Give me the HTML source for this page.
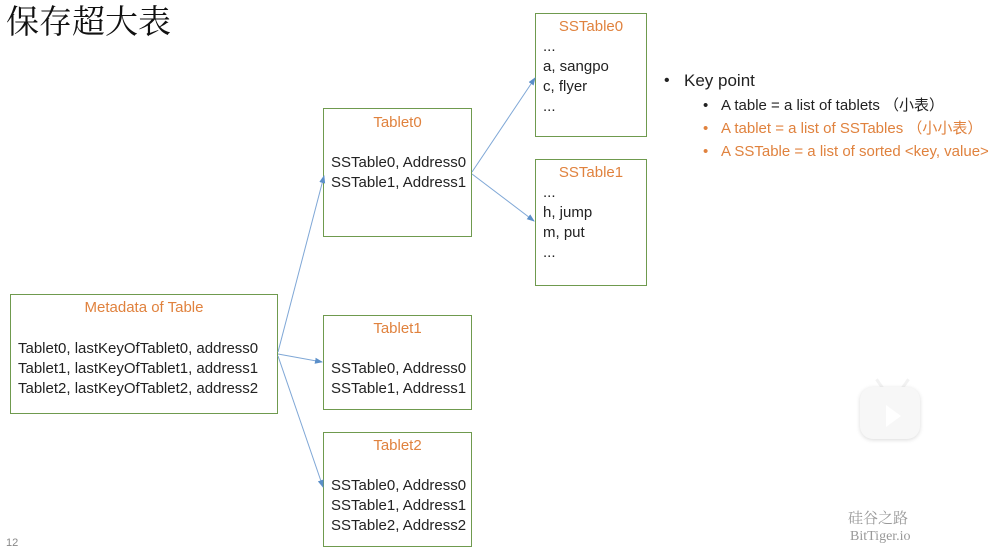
<!DOCTYPE html>
<html><head><meta charset="utf-8"><style>
body{margin:0;width:993px;height:551px;background:#fff;position:relative;overflow:hidden;font-family:"Liberation Sans","Noto Sans CJK SC",sans-serif;font-size:15px;color:#222}
.b{position:absolute;border:1.3px solid #6f9a4e;box-sizing:border-box;line-height:20px}
.t{position:absolute;white-space:nowrap}
.o{color:#e0823e}
.c{text-align:center}
</style></head><body>
<div class="t" style="left:6px;top:-2px;font-family:'Noto Serif CJK SC',serif;font-size:33px;line-height:44px;color:#111">保存超大表</div>

<div class="b" style="left:10px;top:294px;width:268px;height:120px"></div>
<div class="t o c" style="left:10px;width:268px;top:298px;line-height:20px">Metadata of Table</div>
<div class="t" style="left:18px;top:339px;line-height:20px">Tablet0, lastKeyOfTablet0, address0<br>Tablet1, lastKeyOfTablet1, address1<br>Tablet2, lastKeyOfTablet2, address2</div>

<div class="b" style="left:323px;top:108px;width:149px;height:129px"></div>
<div class="t o c" style="left:323px;width:149px;top:113px;line-height:20px">Tablet0</div>
<div class="t" style="left:331px;top:153px;line-height:20px">SSTable0, Address0<br>SSTable1, Address1</div>

<div class="b" style="left:323px;top:315px;width:149px;height:95px"></div>
<div class="t o c" style="left:323px;width:149px;top:319px;line-height:20px">Tablet1</div>
<div class="t" style="left:331px;top:359px;line-height:20px">SSTable0, Address0<br>SSTable1, Address1</div>

<div class="b" style="left:323px;top:432px;width:149px;height:115px"></div>
<div class="t o c" style="left:323px;width:149px;top:436px;line-height:20px">Tablet2</div>
<div class="t" style="left:331px;top:476px;line-height:20px">SSTable0, Address0<br>SSTable1, Address1<br>SSTable2, Address2</div>

<div class="b" style="left:535px;top:13px;width:112px;height:124px"></div>
<div class="t o c" style="left:535px;width:112px;top:17px;line-height:20px">SSTable0</div>
<div class="t" style="left:543px;top:37px;line-height:20px">...<br>a, sangpo<br>c, flyer<br>...</div>

<div class="b" style="left:535px;top:159px;width:112px;height:127px"></div>
<div class="t o c" style="left:535px;width:112px;top:163px;line-height:20px">SSTable1</div>
<div class="t" style="left:543px;top:183px;line-height:20px">...<br>h, jump<br>m, put<br>...</div>

<svg style="position:absolute;left:0;top:0" width="993" height="551">
<defs><marker id="a" markerWidth="8" markerHeight="8" refX="7" refY="4" orient="auto" markerUnits="userSpaceOnUse"><path d="M0,1 L8,4 L0,7 z" fill="#5b8fc9"/></marker></defs>
<g stroke="#7fa7d6" stroke-width="1" fill="none" marker-end="url(#a)">
<line x1="278" y1="352" x2="324" y2="176"/>
<line x1="278" y1="354" x2="322" y2="362"/>
<line x1="278" y1="356" x2="323" y2="487"/>
<line x1="472" y1="172" x2="535" y2="78"/>
<line x1="472" y1="174" x2="534" y2="221"/>
</g>
</svg>

<div class="t" style="left:664px;top:70px;font-size:16px;line-height:22px">•</div>
<div class="t" style="left:684px;top:70px;font-size:17px;line-height:22px">Key point</div>
<div class="t" style="left:703px;top:95px;font-size:15px;line-height:22px">•</div>
<div class="t" style="left:721px;top:95px;font-size:15px;line-height:22px">A table = a list of tablets （小表）</div>
<div class="t o" style="left:703px;top:118px;font-size:15px;line-height:22px">•</div>
<div class="t o" style="left:721px;top:118px;font-size:15px;line-height:22px">A tablet = a list of SSTables （小小表）</div>
<div class="t o" style="left:703px;top:141px;font-size:15px;line-height:22px">•</div>
<div class="t o" style="left:721px;top:141px;font-size:15px;line-height:22px">A SSTable = a list of sorted &lt;key, value&gt;</div>

<div style="position:absolute;left:879px;top:378px;width:3px;height:14px;background:#f2f2f2;transform:rotate(-35deg)"></div>
<div style="position:absolute;left:903px;top:378px;width:3px;height:14px;background:#f2f2f2;transform:rotate(35deg)"></div>
<div style="position:absolute;left:860px;top:387px;width:60px;height:52px;border-radius:13px;background:#f7f7f7;box-shadow:0 1px 4px rgba(0,0,0,.15)"></div>
<div style="position:absolute;left:886px;top:405px;width:0;height:0;border-left:15px solid #fff;border-top:11px solid transparent;border-bottom:11px solid transparent"></div>
<div class="t" style="left:848px;top:508px;font-family:'Noto Serif CJK SC',serif;font-size:15px;color:#999;line-height:20px">硅谷之路</div>
<div class="t" style="left:850px;top:528px;font-family:'Liberation Serif',serif;font-size:14px;color:#999;line-height:18px">BitTiger.io</div>
<div class="t" style="left:6px;top:537px;font-size:11px;color:#888">12</div>
</body></html>
